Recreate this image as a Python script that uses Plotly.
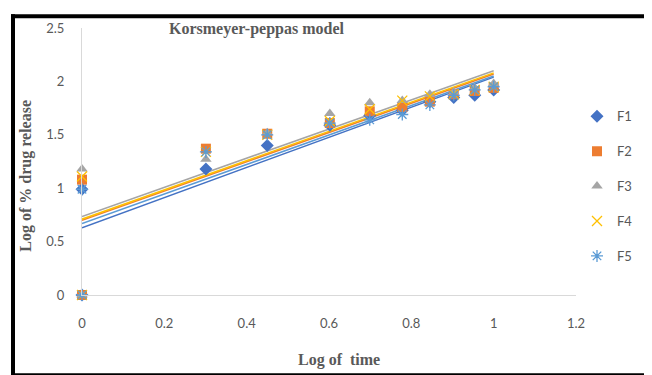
import plotly.graph_objects as go

# ---------------- data ----------------
log_time = [0, 0, 0.301, 0.45, 0.602, 0.699, 0.778, 0.845, 0.903, 0.954, 1.0]
F1 = [0, 0.99, 1.18, 1.40, 1.59, 1.68, 1.73, 1.81, 1.85, 1.87, 1.92]
F2 = [0, 1.08, 1.37, 1.51, 1.61, 1.72, 1.76, 1.81, 1.88, 1.91, 1.94]
F3 = [0, 1.18, 1.27, 1.52, 1.70, 1.80, 1.82, 1.88, 1.90, 1.94, 1.98]
F4 = [0, 1.11, 1.34, 1.50, 1.63, 1.74, 1.82, 1.86, 1.88, 1.92, 1.95]
F5 = [0, 0.99, 1.34, 1.50, 1.61, 1.64, 1.69, 1.78, 1.87, 1.92, 1.95]
series_names = ["F1", "F2", "F3", "F4", "F5"]
series_values = [F1, F2, F3, F4, F5]
trend_intercept = [0.63, 0.70, 0.735, 0.71, 0.67]
trend_slope = [1.41, 1.37, 1.365, 1.37, 1.38]
trend_x = [0, 1.0]
x_ticks = [0, 0.2, 0.4, 0.6, 0.8, 1, 1.2]
x_tick_labels = ["0", "0.2", "0.4", "0.6", "0.8", "1", "1.2"]
y_ticks = [0, 0.5, 1, 1.5, 2, 2.5]
y_tick_labels = ["0", "0.5", "1", "1.5", "2", "2.5"]

# ---------------- styles ----------------
colors = ["#4472C4", "#ED7D31", "#A5A5A5", "#FFC000", "#5B9BD5"]
symbols = ["diamond", "square", "triangle-up", "x-thin-open", "asterisk-open"]
sizes = [10, 10, 10, 10, 10]

W, H = 652, 375
L, R, T, B = 74, 84, 14, 88
pw, ph = W - L - R, H - T - B


def px(x):
    return (x - L) / pw


def py(y):
    return (H - B - y) / ph


fig = go.Figure()

# trend lines
for i, name in enumerate(series_names):
    ty = [trend_intercept[i] + trend_slope[i] * xv for xv in trend_x]
    fig.add_trace(go.Scatter(
        x=trend_x, y=ty, mode="lines",
        line=dict(color=colors[i], width=1.5),
        showlegend=False, hoverinfo="skip"))

# markers
for i, name in enumerate(series_names):
    marker = dict(symbol=symbols[i], size=sizes[i], color=colors[i])
    if symbols[i].endswith("open"):
        marker["line"] = dict(color=colors[i], width=1.3)
    else:
        marker["line"] = dict(width=0)
    fig.add_trace(go.Scatter(
        x=log_time, y=series_values[i], mode="markers", name=name,
        marker=marker, legendgroup=name, cliponaxis=False))

axis_font = dict(family="Lato", size=13, color="#595959")

fig.update_xaxes(
    range=[0, 1.2], tickvals=x_ticks, ticktext=x_tick_labels,
    showgrid=False, zeroline=False, showline=True, linecolor="#D9D9D9",
    linewidth=1, ticks="", tickfont=axis_font, ticklabelstandoff=16)
fig.update_yaxes(
    range=[0, 2.5], tickvals=y_ticks, ticktext=y_tick_labels,
    showgrid=False, zeroline=False, showline=True, linecolor="#D9D9D9",
    linewidth=1, ticks="", tickfont=axis_font, ticklabelstandoff=14)

title_font = dict(family="Liberation Serif", size=16, color="#595959", weight="bold")

annotations = [
    dict(text="Korsmeyer-peppas model", x=px(248), y=py(15), xref="paper", yref="paper",
         xanchor="center", yanchor="middle", showarrow=False, font=title_font),
    dict(text="Log of % drug release", x=px(18), y=py(165), xref="paper", yref="paper",
         xanchor="center", yanchor="middle", showarrow=False, textangle=-90, font=title_font),
    dict(text="Log of&nbsp;&nbsp;time", x=px(331), y=py(353), xref="paper", yref="paper",
         xanchor="center", yanchor="middle", showarrow=False, font=title_font),
]

# black frame
frame = [(3, 0, 650, 4), (3, 0, 7, 372), (644, 0, 650, 372), (3, 367, 650, 372)]
shapes = []
for x0, y0, x1, y1 in frame:
    shapes.append(dict(type="rect", xref="paper", yref="paper",
                       x0=px(x0), x1=px(x1), y0=py(y1), y1=py(y0),
                       fillcolor="black", line=dict(width=0), layer="above"))

fig.update_layout(
    width=W, height=H, margin=dict(l=L, r=R, t=T, b=B),
    paper_bgcolor="white", plot_bgcolor="white",
    annotations=annotations, shapes=shapes,
    legend=dict(x=px(569), y=py(89), xanchor="left", yanchor="top",
                font=dict(family="Lato", size=13, color="#595959"),
                tracegroupgap=15, itemwidth=30, bgcolor="rgba(0,0,0,0)"),
    showlegend=True,
)

fig.write_html("out.html")
